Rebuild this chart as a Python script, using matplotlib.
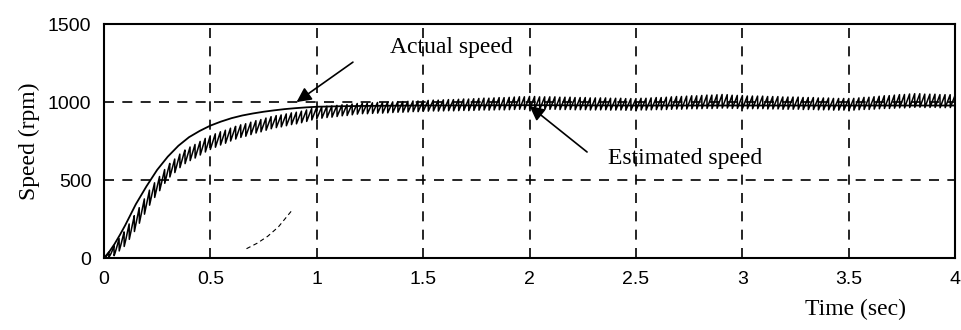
import numpy as np
import matplotlib
matplotlib.use('Agg')
from matplotlib import pyplot as plt

# actual rotor speed (rpm), smooth response
t_act = [0, 0.025, 0.05, 0.075, 0.1, 0.15, 0.2, 0.25, 0.3, 0.35, 0.4, 0.45,
         0.5, 0.55, 0.6, 0.65, 0.7, 0.75, 0.8, 0.85, 0.9, 0.95, 1.0, 1.1,
         1.2, 1.5, 2.0, 2.5, 3.0, 3.5, 4.0]
w_act = [0, 40, 90, 148, 210, 345, 460, 565, 650, 720, 775, 815,
         849, 875, 897, 914, 927, 938, 947, 955, 961, 966, 970, 973,
         975, 978, 980, 978, 978, 978, 978]

# estimated speed: mean level and ripple half-amplitude (rpm)
t_est = [0, 0.05, 0.1, 0.14, 0.22, 0.3, 0.37, 0.5, 0.61, 0.78, 0.94,
         1.0, 1.2, 1.5, 2.0, 2.5, 2.9, 3.0, 3.5, 3.8, 4.0]
w_est = [0, 50, 130, 213, 400, 550, 640, 741, 800, 866, 908,
         930, 958, 975, 995, 985, 1005, 1000, 985, 1010, 1005]
ripple = [0, 35, 50, 53, 50, 45, 45, 45, 42, 40, 38,
          38, 35, 35, 42, 38, 45, 42, 38, 45, 42]
ripple_hz = 42

# stray dashed trace
t_stray = [0.67, 0.72, 0.77, 0.82, 0.88]
w_stray = [60, 95, 140, 200, 300]

x_ticks = [0, 0.5, 1, 1.5, 2, 2.5, 3, 3.5, 4]
x_labels = ['0', '0.5', '1', '1.5', '2', '2.5', '3', '3.5', '4']
y_ticks = [0, 500, 1000, 1500]

serif = 'Liberation Serif'
sans = 'Liberation Sans'

fig = plt.figure(figsize=(9.62, 3.3), dpi=100)
ax = fig.add_axes([0.108, 0.218, 0.885, 0.709])

# build the rippled estimate on a fine time base
tt = np.linspace(0, 4, 6000)
phase = (tt * ripple_hz) % 1.0
saw = 2 * phase - 1
est = np.interp(tt, t_est, w_est) + np.interp(tt, t_est, ripple) * saw

ax.plot(tt, est, color='black', lw=1.1)
ax.plot(t_act, w_act, color='black', lw=1.3)
ax.plot(t_stray, w_stray, color='black', lw=0.8, ls=(0, (4, 3)))

for x in x_ticks[1:-1]:
    ax.axvline(x, color='black', lw=1.2, ls=(0, (6, 5)), zorder=0)
for y in y_ticks[1:-1]:
    ax.axhline(y, color='black', lw=1.2, ls=(0, (6, 5)), zorder=0)

ax.set_xlim(0, 4)
ax.set_ylim(0, 1500)
ax.set_xticks(x_ticks)
ax.set_xticklabels(x_labels)
ax.set_yticks(y_ticks)
ax.tick_params(length=0, pad=9, labelsize=14)
for lab in ax.get_xticklabels() + ax.get_yticklabels():
    lab.set_fontfamily(sans)
for s in ax.spines.values():
    s.set_linewidth(1.5)

ax.set_ylabel('Speed (rpm)', fontfamily=serif, fontsize=17, labelpad=6)
ax.text(3.53, -330, 'Time (sec)', fontfamily=serif, fontsize=17,
        ha='center', va='center')

arrow = dict(arrowstyle='-|>', color='black', lw=1.2, mutation_scale=22,
             shrinkA=0, shrinkB=0)
ax.annotate('', xy=(0.905, 1000), xytext=(1.17, 1256), arrowprops=arrow)
ax.text(1.345, 1352, 'Actual speed', fontfamily=serif, fontsize=17,
        ha='left', va='center')
ax.annotate('', xy=(2.0, 975), xytext=(2.27, 680), arrowprops=arrow)
ax.text(2.37, 640, 'Estimated speed', fontfamily=serif, fontsize=17,
        ha='left', va='center')

fig.savefig('out.png', dpi=100)
